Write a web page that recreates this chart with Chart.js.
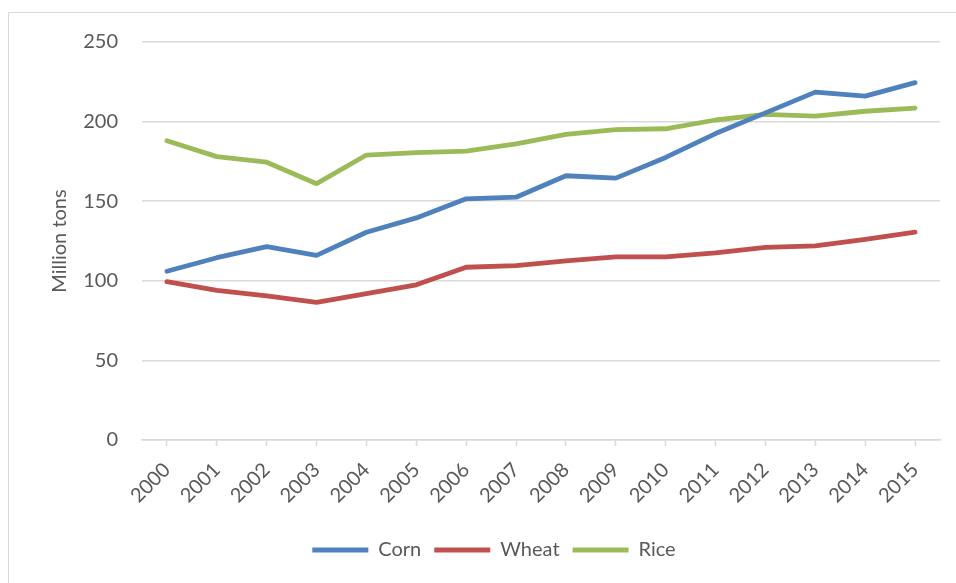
<!DOCTYPE html>
<html>
<head>
<meta charset="utf-8">
<script src="https://cdn.jsdelivr.net/npm/chart.js@4/dist/chart.umd.min.js"></script>
<style>
  html, body { margin: 0; padding: 0; background: #fff; }
  #wrap { position: relative; width: 956px; height: 583px; overflow: hidden; }
  #frame { position: absolute; left: 8px; top: 12px; width: 1200px; height: 1200px; border: 1px solid #d9d9d9; }
  #chart { position: absolute; left: 0; top: 0; }
</style>
</head>
<body>
<div id="wrap">
  <div id="frame"></div>
  <canvas id="chart" width="956" height="583"></canvas>
</div>
<script>
const years = ['2000', '2001', '2002', '2003', '2004', '2005', '2006', '2007',
               '2008', '2009', '2010', '2011', '2012', '2013', '2014', '2015'];
const corn  = [106, 114.5, 121.5, 116, 130.5, 139.5, 151.5, 152.5, 166, 164.5, 177.5, 192.5, 205.5, 218.5, 216, 224.5];
const wheat = [99.5, 94, 90.5, 86.5, 92, 97.5, 108.5, 109.5, 112.5, 115, 115, 117.5, 121, 122, 126, 130.5];
const rice  = [188, 178, 174.5, 161, 179, 180.5, 181.5, 186, 192, 195, 195.5, 201, 204.5, 203.5, 206.5, 208.5];
const yTicks = [0, 50, 100, 150, 200, 250];

const gray = '#595959';
const gridGray = '#d9d9d9';
const font = { family: 'Lato, "Open Sans", sans-serif', size: 20 };

function series(label, data, color) {
    return {
        label: label,
        data: data,
        borderColor: color,
        backgroundColor: color,
        borderWidth: 4.8,
        borderCapStyle: 'round',
        borderJoinStyle: 'round',
        pointRadius: 0,
        pointHoverRadius: 0,
        tension: 0,
        fill: false
    };
}

new Chart(document.getElementById('chart'), {
    type: 'line',
    data: {
        labels: years,
        datasets: [
            series('Corn', corn, '#4f81bd'),
            series('Wheat', wheat, '#c0504d'),
            series('Rice', rice, '#9bbb59')
        ]
    },
    options: {
        responsive: false,
        animation: false,
        layout: { padding: { top: 42, right: 16, bottom: 13, left: 48 } },
        plugins: {
            tooltip: { enabled: false },
            legend: {
                position: 'bottom',
                labels: {
                    usePointStyle: true,
                    pointStyle: 'line',
                    pointStyleWidth: 56,
                    color: gray,
                    font: font,
                    padding: 13
                }
            }
        },
        scales: {
            x: {
                offset: true,
                grid: { display: true, drawOnChartArea: false, color: gridGray, tickLength: 6, tickWidth: 1.5 },
                border: { display: true, color: gridGray, width: 1.5 },
                ticks: { color: gray, font: font, minRotation: 45, maxRotation: 45, padding: 12, autoSkip: false },
                afterFit: function(scale) { scale.height = 87; }
            },
            y: {
                min: 0,
                max: 250,
                afterBuildTicks: function(scale) { scale.ticks = yTicks.map(v => ({ value: v })); },
                grid: { color: gridGray, lineWidth: 1.5, drawTicks: false },
                border: { display: false },
                ticks: { color: gray, font: font, padding: 24 },
                title: { display: true, text: 'Million tons', color: gray, font: font, padding: 0 },
                afterFit: function(scale) { scale.width = 94; }
            }
        }
    }
});
</script>
</body>
</html>
